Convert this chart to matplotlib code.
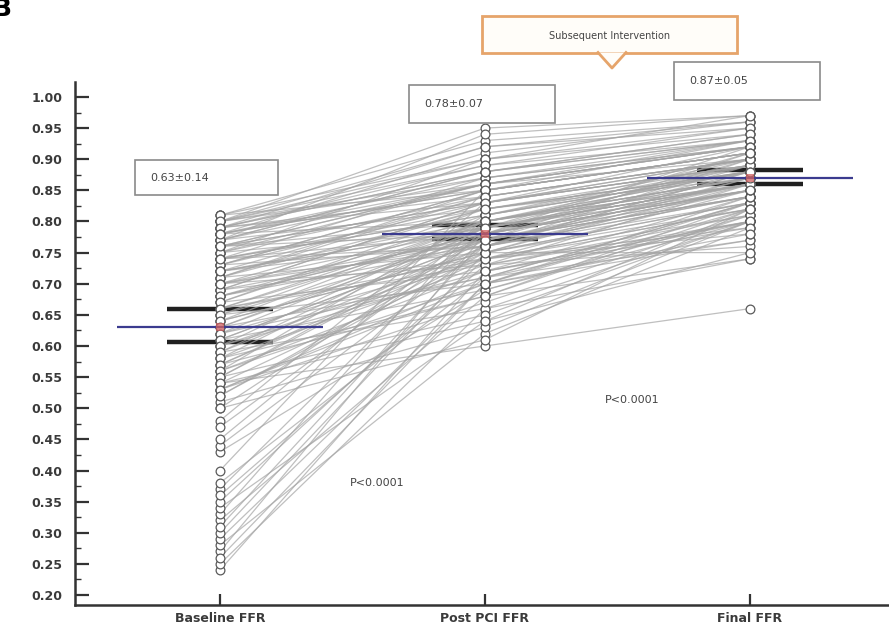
import matplotlib.pyplot as plt
import numpy as np
from matplotlib.patches import Rectangle, Polygon
from matplotlib.lines import Line2D
from matplotlib.ticker import MultipleLocator

W, H = 889, 627

categories = ["Baseline FFR", "Post PCI FFR", "Final FFR"]

# one entry per lesion: baseline, after PCI, after any further intervention
baseline_ffr = [
    0.24, 0.25, 0.27, 0.28, 0.29, 0.30, 0.32, 0.33, 0.34, 0.35, 0.37, 0.38, 0.40, 0.43, 0.44, 0.48,
    0.81, 0.81, 0.80, 0.80, 0.80, 0.79, 0.79, 0.79, 0.78, 0.78,
    0.78, 0.77, 0.77, 0.77, 0.76, 0.76, 0.76, 0.75, 0.75, 0.75,
    0.74, 0.74, 0.74, 0.73, 0.73, 0.73, 0.72, 0.72, 0.72, 0.71,
    0.71, 0.71, 0.70, 0.70, 0.70, 0.69, 0.69, 0.69, 0.68, 0.68,
    0.68, 0.67, 0.67, 0.66, 0.66, 0.66, 0.65, 0.65, 0.64, 0.64,
    0.63, 0.63, 0.62, 0.62, 0.61, 0.61, 0.60, 0.60, 0.59, 0.59,
    0.58, 0.58, 0.57, 0.57, 0.56, 0.56, 0.55, 0.55, 0.54, 0.54,
    0.53, 0.53, 0.52, 0.51, 0.50, 0.50, 0.80, 0.79, 0.78, 0.77,
    0.80, 0.79, 0.76, 0.74,
    0.26, 0.31, 0.36, 0.45, 0.47,
    0.81, 0.80, 0.79, 0.78, 0.77, 0.76, 0.75, 0.74, 0.73, 0.72,
    0.71, 0.70, 0.69, 0.68, 0.67, 0.66, 0.65, 0.64, 0.63, 0.62,
    0.61, 0.60, 0.59, 0.58, 0.57, 0.56, 0.55, 0.54, 0.53, 0.52,
    0.78, 0.76, 0.74, 0.72, 0.70,
]
post_pci_ffr = [
    0.72, 0.66, 0.78, 0.62, 0.70, 0.75, 0.68, 0.81, 0.64, 0.74, 0.79, 0.71, 0.85, 0.69, 0.76, 0.83,
    0.93, 0.85, 0.95, 0.90, 0.86, 0.92, 0.84, 0.89, 0.91, 0.87,
    0.85, 0.86, 0.82, 0.94, 0.80, 0.86, 0.83, 0.90, 0.79, 0.84,
    0.81, 0.87, 0.78, 0.83, 0.76, 0.85, 0.80, 0.84, 0.77, 0.82,
    0.75, 0.85, 0.79, 0.73, 0.82, 0.77, 0.83, 0.74, 0.80, 0.78,
    0.76, 0.81, 0.72, 0.79, 0.80, 0.74, 0.77, 0.70, 0.80, 0.75,
    0.78, 0.71, 0.79, 0.74, 0.69, 0.77, 0.80, 0.72, 0.76, 0.66,
    0.73, 0.79, 0.68, 0.75, 0.81, 0.70, 0.77, 0.65, 0.74, 0.60,
    0.71, 0.67, 0.76, 0.63, 0.78, 0.61, 0.92, 0.88, 0.85, 0.88,
    0.87, 0.83, 0.86, 0.82,
    0.70, 0.77, 0.73, 0.80, 0.78,
    0.90, 0.89, 0.88, 0.86, 0.88, 0.83, 0.86, 0.81, 0.85, 0.79,
    0.84, 0.76, 0.83, 0.78, 0.82, 0.73, 0.80, 0.75, 0.79, 0.71,
    0.77, 0.74, 0.79, 0.68, 0.76, 0.72, 0.78, 0.64, 0.70, 0.75,
    0.80, 0.78, 0.76, 0.79, 0.77,
]
final_ffr = [
    0.84, 0.80, 0.88, 0.79, 0.82, 0.86, 0.83, 0.90, 0.82, 0.85, 0.89, 0.83, 0.93, 0.81, 0.87, 0.92,
    0.96, 0.91, 0.97, 0.94, 0.92, 0.95, 0.90, 0.93, 0.96, 0.92,
    0.91, 0.90, 0.88, 0.97, 0.87, 0.93, 0.89, 0.95, 0.86, 0.90,
    0.88, 0.92, 0.85, 0.89, 0.83, 0.91, 0.86, 0.90, 0.84, 0.87,
    0.82, 0.91, 0.86, 0.80, 0.88, 0.84, 0.90, 0.79, 0.87, 0.85,
    0.84, 0.88, 0.80, 0.86, 0.87, 0.81, 0.85, 0.77, 0.88, 0.83,
    0.86, 0.83, 0.87, 0.82, 0.80, 0.85, 0.89, 0.80, 0.84, 0.74,
    0.81, 0.87, 0.82, 0.83, 0.89, 0.83, 0.86, 0.80, 0.82, 0.66,
    0.80, 0.81, 0.85, 0.80, 0.86, 0.82, 0.96, 0.94, 0.91, 0.93,
    0.93, 0.90, 0.92, 0.89,
    0.84, 0.84, 0.86, 0.87, 0.85,
    0.97, 0.95, 0.94, 0.92, 0.93, 0.89, 0.92, 0.88, 0.91, 0.86,
    0.90, 0.88, 0.89, 0.90, 0.88, 0.76, 0.86, 0.75, 0.85, 0.77,
    0.89, 0.78, 0.86, 0.74, 0.88, 0.79, 0.85, 0.75, 0.78, 0.87,
    0.88, 0.92, 0.90, 0.91, 0.91,
]

mean_ffr = [0.63, 0.78, 0.87]
sd_ffr = [0.14, 0.07, 0.05]
ci_ffr = [(0.607, 0.659), (0.772, 0.794), (0.860, 0.882)]
p_labels = ["P<0.0001", "P<0.0001"]
note_text = "Subsequent Intervention"


def fig_xy(x, y):
    # pixel position (from top-left) -> figure fraction
    return x / W, 1 - y / H


fig = plt.figure(figsize=(W / 100, H / 100), dpi=100)
ax = fig.add_axes([75 / W, 1 - 605 / H, 1 - 75 / W, (605 - 82) / H])
ax.set_xlim(-0.547, 2.525)
ax.set_ylim(0.184, 1.024)

xs = np.arange(len(categories))
columns = [baseline_ffr, post_pci_ffr, final_ffr]

# confidence interval bars sit underneath the paired lines
for i, (lo, hi) in enumerate(ci_ffr):
    ax.hlines([lo, hi], i - 0.2, i + 0.2, color="#202020", lw=3.2, zorder=1)

for b, p, f in zip(baseline_ffr, post_pci_ffr, final_ffr):
    ax.plot(xs, [b, p, f], color="#a4a4a4", lw=0.9, alpha=0.7, zorder=2)

for i, vals in enumerate(columns):
    ax.plot(np.full(len(vals), i), vals, "o", mfc="white", mec="#5a5a5a",
            mew=0.9, ms=6.3, zorder=3)

for i, m in enumerate(mean_ffr):
    ax.hlines(m, i - 0.39, i + 0.39, color="#3b3b8f", lw=1.6, zorder=4)
    ax.plot(i, m, "s", color="#d06060", alpha=0.75, ms=6, mew=0, zorder=5)

# axes styling
for side in ["top", "right"]:
    ax.spines[side].set_visible(False)
for side in ["left", "bottom"]:
    ax.spines[side].set_linewidth(1.8)
    ax.spines[side].set_color("#333333")

ax.set_yticks(np.round(np.arange(0.20, 1.001, 0.05), 2))
ax.set_yticklabels([f"{v:.2f}" for v in ax.get_yticks()])
ax.yaxis.set_minor_locator(MultipleLocator(0.025))
ax.tick_params(axis="y", which="major", direction="in", length=10, width=1.6,
               pad=9, labelsize=9, labelcolor="#3a3a3a", color="#333333")
ax.tick_params(axis="y", which="minor", direction="in", length=4, width=1,
               color="#333333")
ax.set_xticks(xs, categories)
ax.tick_params(axis="x", direction="in", length=8, width=1.6, pad=5,
               labelsize=9, labelcolor="#3a3a3a", color="#333333")
for lbl in ax.get_xticklabels() + ax.get_yticklabels():
    lbl.set_fontweight("bold")

# mean +/- sd boxes
box_px = [(135, 160, 278, 195), (409, 85, 555, 123), (674, 62, 820, 100)]
for (x0, y0, x1, y1), m, s in zip(box_px, mean_ffr, sd_ffr):
    fig.add_artist(Rectangle(fig_xy(x0, y1), (x1 - x0) / W, (y1 - y0) / H,
                             transform=fig.transFigure, fill=False,
                             ec="#8a8a8a", lw=1.2))
    tx, ty = fig_xy(x0 + 15, (y0 + y1) / 2)
    fig.text(tx, ty, f"{m:.2f}\u00b1{s:.2f}", fontsize=8, color="#444444",
             ha="left", va="center")

# p-values
for (px, py), lab in zip([(350, 483), (605, 400)], p_labels):
    tx, ty = fig_xy(px, py)
    fig.text(tx, ty, lab, fontsize=8, color="#444444", ha="left", va="center")

# callout for the subsequent intervention
orange = "#e6a46a"
fig.add_artist(Rectangle(fig_xy(482, 53), (737 - 482) / W, (53 - 16) / H,
                         transform=fig.transFigure, fc="#fffdf9", ec=orange,
                         lw=2))
tip = [fig_xy(598, 52.5), fig_xy(612, 68), fig_xy(626, 52.5)]
fig.add_artist(Polygon(tip, closed=True, transform=fig.transFigure,
                       fc="#fffdf9", ec="none", zorder=3))
fig.add_artist(Line2D([p[0] for p in tip], [p[1] for p in tip],
                      transform=fig.transFigure, color=orange, lw=2, zorder=4))
tx, ty = fig_xy(610, 36)
fig.text(tx, ty, note_text, fontsize=7, color="#444444", ha="center",
         va="center")

# panel letter, partly off the left edge
tx, ty = fig_xy(-7, 16)
fig.text(tx, ty, "B", fontsize=18, fontweight="bold", ha="left",
         va="baseline")

fig.savefig("out.png", dpi=100)
